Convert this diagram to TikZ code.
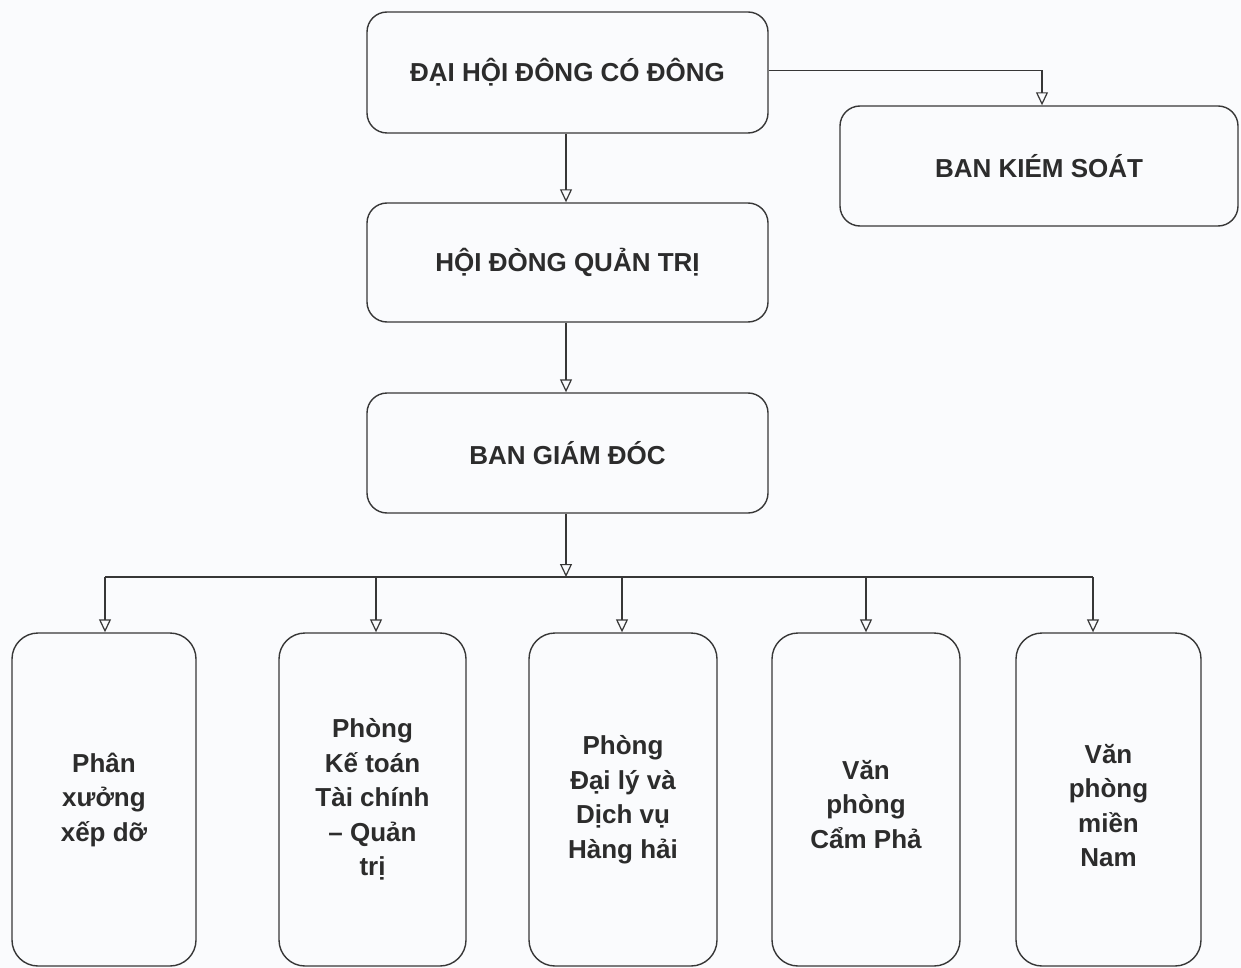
\documentclass[tikz,border=0pt]{standalone}
\usepackage{fontspec}
\setmainfont{Liberation Sans}
\usetikzlibrary{arrows.meta}
\definecolor{ink}{RGB}{55,55,55}
\definecolor{paper}{RGB}{250,251,253}
\begin{document}
\begin{tikzpicture}[x=1pt,y=-1pt,
  box/.style={draw=ink, line width=1.4pt, rounded corners=20pt, align=center, inner sep=0pt, text=ink!80!black},
  topbox/.style={box, font=\fontsize{26}{30}\selectfont\bfseries},
  lowtext/.style={align=center, text=ink!80!black, font=\fontsize{26}{34.5}\selectfont\bfseries},
  lowbox/.style={box, rounded corners=26pt, minimum height=333pt, font=\fontsize{26}{34.5}\selectfont\bfseries},
  arr/.style={draw=ink, line width=1.3pt, -{Triangle[open, length=13pt, width=12pt, line width=1.2pt]}},
  link/.style={draw=ink, line width=1.3pt}]
\fill[paper] (0,0) rectangle (1241,968);
\useasboundingbox (0,0) rectangle (1241,968);

\node[topbox, minimum width=401pt, minimum height=121pt] (A) at (567.5,72.5) {ĐẠI HỘI ĐÔNG CÓ ĐÔNG};
\node[topbox, minimum width=398pt, minimum height=120pt] (B) at (1039,166) {BAN KIÉM SOÁT};
\node[topbox, minimum width=401pt, minimum height=119pt] (C) at (567.5,262.5) {HỘI ĐÒNG QUẢN TRỊ};
\node[topbox, minimum width=401pt, minimum height=120pt] (D) at (567.5,453) {BAN GIÁM ĐÓC};

\node[lowbox, minimum width=184pt] (E1) at (104,799.5) {Phân\\xưởng\\xếp dỡ};
\node[lowbox, minimum width=187pt] (E2) at (372.5,799.5) {Phòng\\Kế toán\\Tài chính\\– Quản\\trị};
\node[lowbox, minimum width=188pt] (E3) at (623,799.5) {Phòng\\Đại lý và\\Dịch vụ\\Hàng hải};
\node[lowbox, minimum width=188pt, label={[lowtext, yshift=-5pt]center:Văn\\phòng\\Cẩm Phả}] (E4) at (866,799.5) {};
\node[lowbox, minimum width=185pt, label={[lowtext, yshift=-6pt]center:Văn\\phòng\\miền\\Nam}] (E5) at (1108.5,799.5) {};

\coordinate (bus) at (566,577);
\coordinate (busL) at (105,577);
\coordinate (busR) at (1093,577);
\coordinate (b2) at (376,577);
\coordinate (b3) at (622,577);
\coordinate (b4) at (866,577);

\draw[arr] (A.south -| bus) -- (C.north -| bus);
\draw[arr] ([yshift=2pt]A.east) -| ([xshift=3pt]B.north);
\draw[arr] (C.south -| bus) -- (D.north -| bus);
\draw[arr] (D.south -| bus) -- (bus);
\draw[link] (busL) -- (busR);
\draw[arr] (busL) -- (busL |- E1.north);
\draw[arr] (b2) -- (b2 |- E2.north);
\draw[arr] (b3) -- (b3 |- E3.north);
\draw[arr] (b4) -- (b4 |- E4.north);
\draw[arr] (busR) -- (busR |- E5.north);
\end{tikzpicture}
\end{document}
